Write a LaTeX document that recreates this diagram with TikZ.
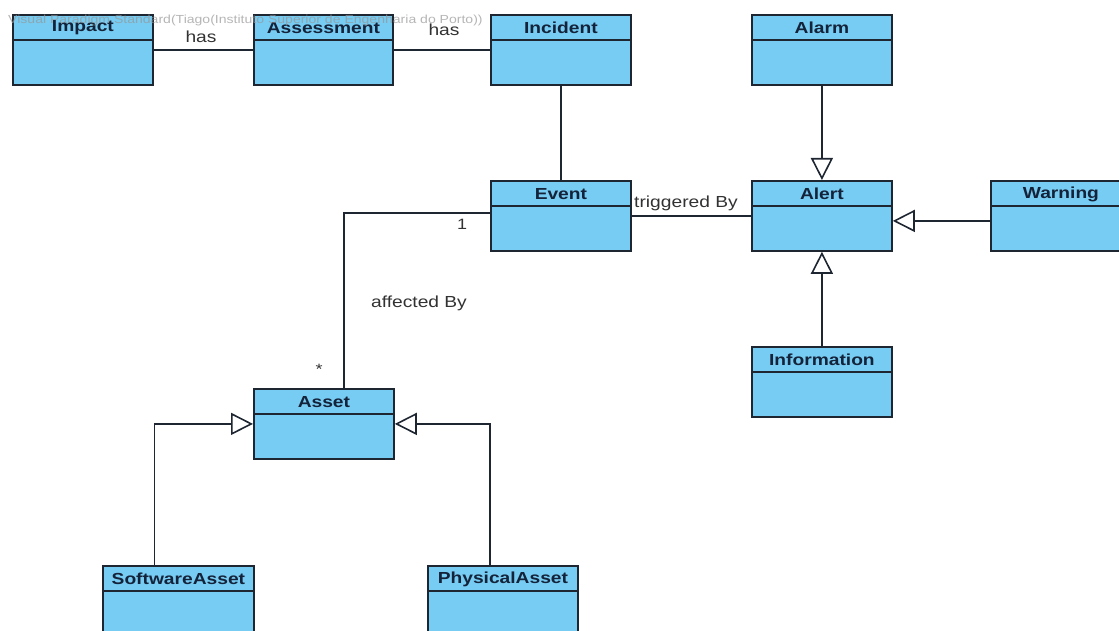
\documentclass[tikz,border=0pt]{standalone}
\usepackage{fontspec}
\setmainfont{Liberation Sans}[FakeStretch=1.2]
\usetikzlibrary{arrows.meta}
\definecolor{classfill}{RGB}{118,204,242}
\definecolor{classedge}{RGB}{30,38,50}
\definecolor{titleink}{RGB}{20,35,58}
\definecolor{labelink}{RGB}{50,50,50}
\definecolor{markink}{RGB}{150,150,150}

\tikzset{
  classbox/.style={draw=classedge, fill=classfill, line width=1.8pt,
    minimum height=70pt, inner sep=0pt, anchor=north west},
  headline/.style={draw=classedge, line width=1.6pt},
  classtitle/.style={text=titleink, inner sep=0pt,
    font=\fontsize{16}{18}\selectfont\bfseries},
  assoc/.style={draw=classedge, line width=1.6pt},
  gen/.style={assoc, -{Triangle[open, fill=white, length=22pt, width=22pt]}},
  assoclabel/.style={text=labelink, inner sep=0pt,
    font=\fontsize{16}{18}\selectfont},
  mult/.style={text=labelink, inner sep=0pt,
    font=\fontsize{15}{17}\selectfont},
}

% class box: name, left, top, width, title
\newcommand{\umlclass}[5]{%
  \node[classbox, minimum width=#4pt] (#1) at (#2,#3) {};
  \draw[headline] ([yshift=-26pt]#1.north west) -- ([yshift=-26pt]#1.north east);
  \node[classtitle] (#1-title) at ([yshift=-14pt]#1.north) {#5};
}

\begin{document}
\begin{tikzpicture}[x=1pt, y=-1pt]
\useasboundingbox (0,0) rectangle (1119,631);
\clip (0,0) rectangle (1119,631);

% classes
\umlclass{impact}{12}{14}{140}{Impact}
\umlclass{assessment}{253}{14}{139}{Assessment}
\umlclass{incident}{490}{14}{140}{Incident}
\umlclass{alarm}{751}{14}{140}{Alarm}
\umlclass{event}{490}{180}{140}{Event}
\umlclass{alert}{751}{180}{140}{Alert}
\umlclass{warning}{990}{180}{140}{Warning}
\umlclass{information}{751}{346}{140}{Information}
\umlclass{asset}{253}{388}{140}{Asset}
\umlclass{software}{102}{565}{151}{SoftwareAsset}
\umlclass{physical}{427}{565}{150}{PhysicalAsset}

% associations
\draw[assoc] (impact.east) -- (assessment.west);
\draw[assoc] (assessment.east) -- (incident.west);
\draw[assoc] (incident.south) -- (event.north);
\draw[assoc] (event.east) -- (alert.west);
\draw[assoc] ([yshift=3pt]event.west) -| ([xshift=20pt]asset.north);

% generalizations
\draw[gen] (alarm.south) -- (alert.north);
\draw[gen] ([yshift=-5pt]warning.west) -- ([yshift=-5pt]alert.east);
\draw[gen] (information.north) -- (alert.south);
\draw[gen] ([xshift=-24pt]software.north) |- (asset.west);
\draw[gen] ([xshift=-13pt]physical.north) |- (asset.east);

% association labels and multiplicities
\node[assoclabel] (has1) at (201,37) {has};
\node[assoclabel] (has2) at (444,30) {has};
\node[assoclabel] (trig) at (686,203) {triggered By};
\node[assoclabel] (affected) at (419,303) {affected By};
\node[mult] (one) at (462,224) {1};
\node[mult] (many) at (319,369) {*};

% edition stamp
\node[text=markink, opacity=0.7, inner sep=0pt, anchor=west,
  font=\fontsize{11.7}{13}\selectfont] (stamp) at (8,20)
  {Visual Paradigm Standard(Tiago(Instituto Superior de Engenharia do Porto))};
\end{tikzpicture}
\end{document}
